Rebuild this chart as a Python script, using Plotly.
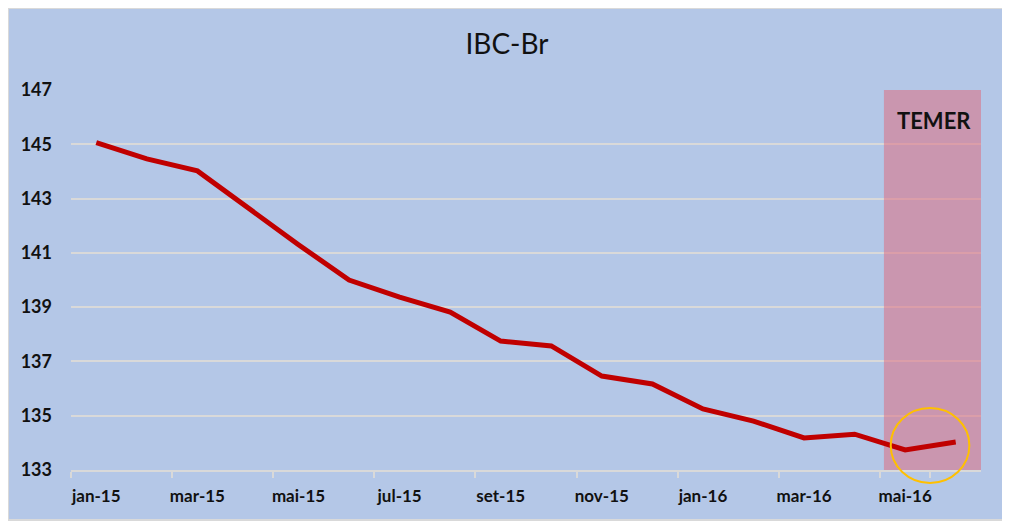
import plotly.graph_objects as go

months = ["jan-15", "fev-15", "mar-15", "abr-15", "mai-15", "jun-15", "jul-15", "ago-15",
          "set-15", "out-15", "nov-15", "dez-15", "jan-16", "fev-16", "mar-16", "abr-16",
          "mai-16", "jun-16"]
ibc_br = [145.06, 144.46, 144.02, 142.65, 141.30, 140.00, 139.37, 138.82,
          137.75, 137.57, 136.46, 136.17, 135.25, 134.80, 134.18, 134.32,
          133.74, 134.03]
tick_labels = months[::2]
title_text = "IBC-Br"
period_label = "TEMER"

BG = "#b4c7e7"
GRID = "#d9d9d9"
FONT = "Lato"

fig = go.Figure()
fig.add_trace(go.Scatter(
    x=months, y=ibc_br, mode="lines",
    line=dict(color="#c00000", width=5),
    hoverinfo="skip", showlegend=False,
))

shapes = [
    # chart background with border
    dict(type="rect", xref="paper", yref="paper", x0=-0.0692, x1=1.0253, y0=-0.1316, y1=1.2158,
         fillcolor=BG, line=dict(color=GRID, width=2), layer="below"),
    # Temer period
    dict(type="rect", xref="x", yref="y", x0=15.58, x1=17.5, y0=133, y1=147,
         fillcolor="rgba(220,110,130,0.55)", line=dict(width=0), layer="between"),
    # highlight circle
    dict(type="circle", xref="paper", yref="paper", x0=0.9008, x1=0.9872, y0=-0.034, y1=0.163,
         line=dict(color="#ffc000", width=2), fillcolor="rgba(0,0,0,0)", layer="above"),
]

fig.update_layout(
    width=1002, height=518,
    margin=dict(l=63, r=29, t=82, b=56),
    paper_bgcolor="white",
    plot_bgcolor="rgba(0,0,0,0)",
    title=dict(text=title_text, x=499 / 1002, xref="container", xanchor="center",
               y=1 - 36 / 518, yref="container", yanchor="middle",
               font=dict(family=FONT, size=28, color="#111111")),
    shapes=shapes,
    annotations=[dict(text="<b>%s</b>" % period_label, xref="x", yref="y", x=16.57, y=145.86,
                      showarrow=False, font=dict(family=FONT, size=22, color="#111111"),
                      xanchor="center", yanchor="middle")],
    xaxis=dict(
        type="category", range=[-0.5, 17.5], automargin=False,
        tickmode="array", tickvals=tick_labels, ticktext=["<b>%s</b>" % t for t in tick_labels],
        tickangle=0,
        tickson="boundaries", ticks="outside", ticklen=6, tickwidth=1.5, tickcolor=GRID,
        showgrid=False, showline=True, linecolor=GRID, linewidth=1.5,
        tickfont=dict(family=FONT, size=17, color="#111111"),
        ticklabelstandoff=10,
    ),
    yaxis=dict(
        range=[133, 147], dtick=2, tick0=133, automargin=False,
        showgrid=True, gridcolor=GRID, gridwidth=1.5, zeroline=False, showline=False,
        tickfont=dict(family=FONT, size=18, color="#111111"),
        tickprefix="<b>", ticksuffix="</b>",
        ticklabelstandoff=18,
    ),
)

fig.write_html("out.html")
